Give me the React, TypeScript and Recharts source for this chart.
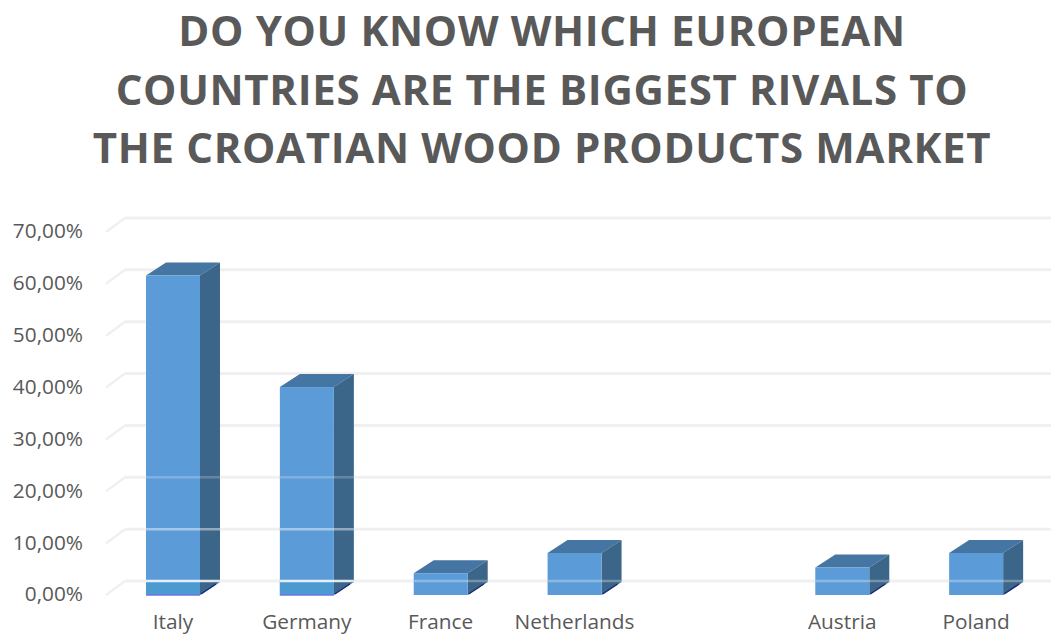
import { BarChart, Bar, XAxis, YAxis, CartesianGrid } from 'recharts'

const titleLines = [
  'DO YOU KNOW WHICH EUROPEAN',
  'COUNTRIES ARE THE BIGGEST RIVALS TO',
  'THE CROATIAN WOOD PRODUCTS MARKET',
]
const countries = ['Italy', 'Germany', 'France', 'Netherlands', '', 'Austria', 'Poland']
const shares = [61.6, 40.1, 4.2, 8.1, null, 5.3, 8.1]
const yTicks = [0, 10, 20, 30, 40, 50, 60, 70]

const rows = countries.map((name, i) => ({ name, share: shares[i] }))

const FONT = '"Open Sans", sans-serif'
const GRID = '#f0f0f0'
const DEPTH_X = 19
const DEPTH_Y = 14

function percent(v: number) {
  return v.toFixed(2).replace('.', ',') + '%'
}

// wall line + short diagonal floor stub, like Excel's 3D chart
function GridLine(props: any) {
  const { x1, x2, y1 } = props
  return (
    <g key={props.key ?? y1}>
      <line x1={x1} y1={y1} x2={x1 + DEPTH_X} y2={y1 - DEPTH_Y} stroke={GRID} strokeWidth={2.5} />
      <line x1={x1 + DEPTH_X} y1={y1 - DEPTH_Y} x2={x2 + 8} y2={y1 - DEPTH_Y} stroke={GRID} strokeWidth={3} />
    </g>
  )
}

function Box3D(props: any) {
  const { x, y, width, height, value } = props
  if (value == null) return null
  const dx = 20
  const dy = 13
  const bottom = y + height
  const pxPerUnit = height / value
  const tall = value > 20
  // the back wall lines shine through the box a little
  const glows = [
    { at: 0, opacity: tall ? 0.85 : 0.3 },
    { at: 10, opacity: 0.45 },
    { at: 20, opacity: 0.22 },
  ].filter((g) => g.at < value)
  return (
    <g>
      <polygon
        points={`${x},${y} ${x + dx},${y - dy} ${x + width + dx},${y - dy} ${x + width},${y}`}
        fill="#4575a3"
      />
      <polygon
        points={`${x + width},${y} ${x + width + dx},${y - dy} ${x + width + dx},${bottom - dy} ${x + width},${bottom}`}
        fill="#3b6589"
      />
      <rect x={x} y={y} width={width} height={height} fill="#5b9bd8" />
      {tall && <rect x={x} y={bottom - 13} width={width} height={13} fill="#4b9ad0" />}
      {tall && <line x1={x} y1={bottom} x2={x + width} y2={bottom} stroke="#6f74e8" strokeWidth={1.5} />}
      <line
        x1={x + width + 1}
        y1={bottom - 1}
        x2={x + width + dx - 4}
        y2={bottom - dy + 2}
        stroke="#1b2c78"
        strokeWidth={1.5}
      />
      {glows.map((g) => {
        const gy = bottom - g.at * pxPerUnit - DEPTH_Y
        return (
          <line
            key={g.at}
            x1={x}
            y1={gy}
            x2={x + width + dx}
            y2={gy}
            stroke="#ffffff"
            strokeOpacity={g.opacity}
            strokeWidth={2.5}
          />
        )
      })}
    </g>
  )
}

export default function App() {
  return (
    <div style={{ position: 'absolute', left: 0, top: 0, width: 1051, height: 635, background: '#fff', overflow: 'hidden' }}>
      <div
        style={{
          position: 'absolute',
          left: 0,
          top: 1,
          width: 1084,
          textAlign: 'center',
          fontFamily: FONT,
          fontWeight: 700,
          fontSize: 42,
          lineHeight: '58.5px',
          letterSpacing: 0.65,
          color: '#595959',
          whiteSpace: 'nowrap',
        }}
      >
        {titleLines.map((line) => (
          <div key={line}>{line}</div>
        ))}
      </div>
      <div style={{ position: 'absolute', left: 0, top: 0 }}>
        <BarChart
          width={1051}
          height={635}
          data={rows}
          margin={{ top: 232, right: 8, bottom: 0, left: 0 }}
          barCategoryGap={40}
        >
          <CartesianGrid vertical={false} horizontal={GridLine} />
          <XAxis
            dataKey="name"
            height={40}
            interval={0}
            axisLine={false}
            tickLine={false}
            tickMargin={13}
            tick={{ fill: '#595959', fontSize: 20.8, fontFamily: FONT }}
          />
          <YAxis
            width={106}
            domain={[0, 70]}
            ticks={yTicks}
            tickFormatter={percent}
            axisLine={false}
            tickLine={false}
            tickSize={0}
            tickMargin={23}
            tick={{ fill: '#595959', fontSize: 20.8, fontFamily: FONT, dy: -1 }}
          />
          <Bar dataKey="share" barSize={54} shape={Box3D} isAnimationActive={false} />
        </BarChart>
      </div>
    </div>
  )
}
